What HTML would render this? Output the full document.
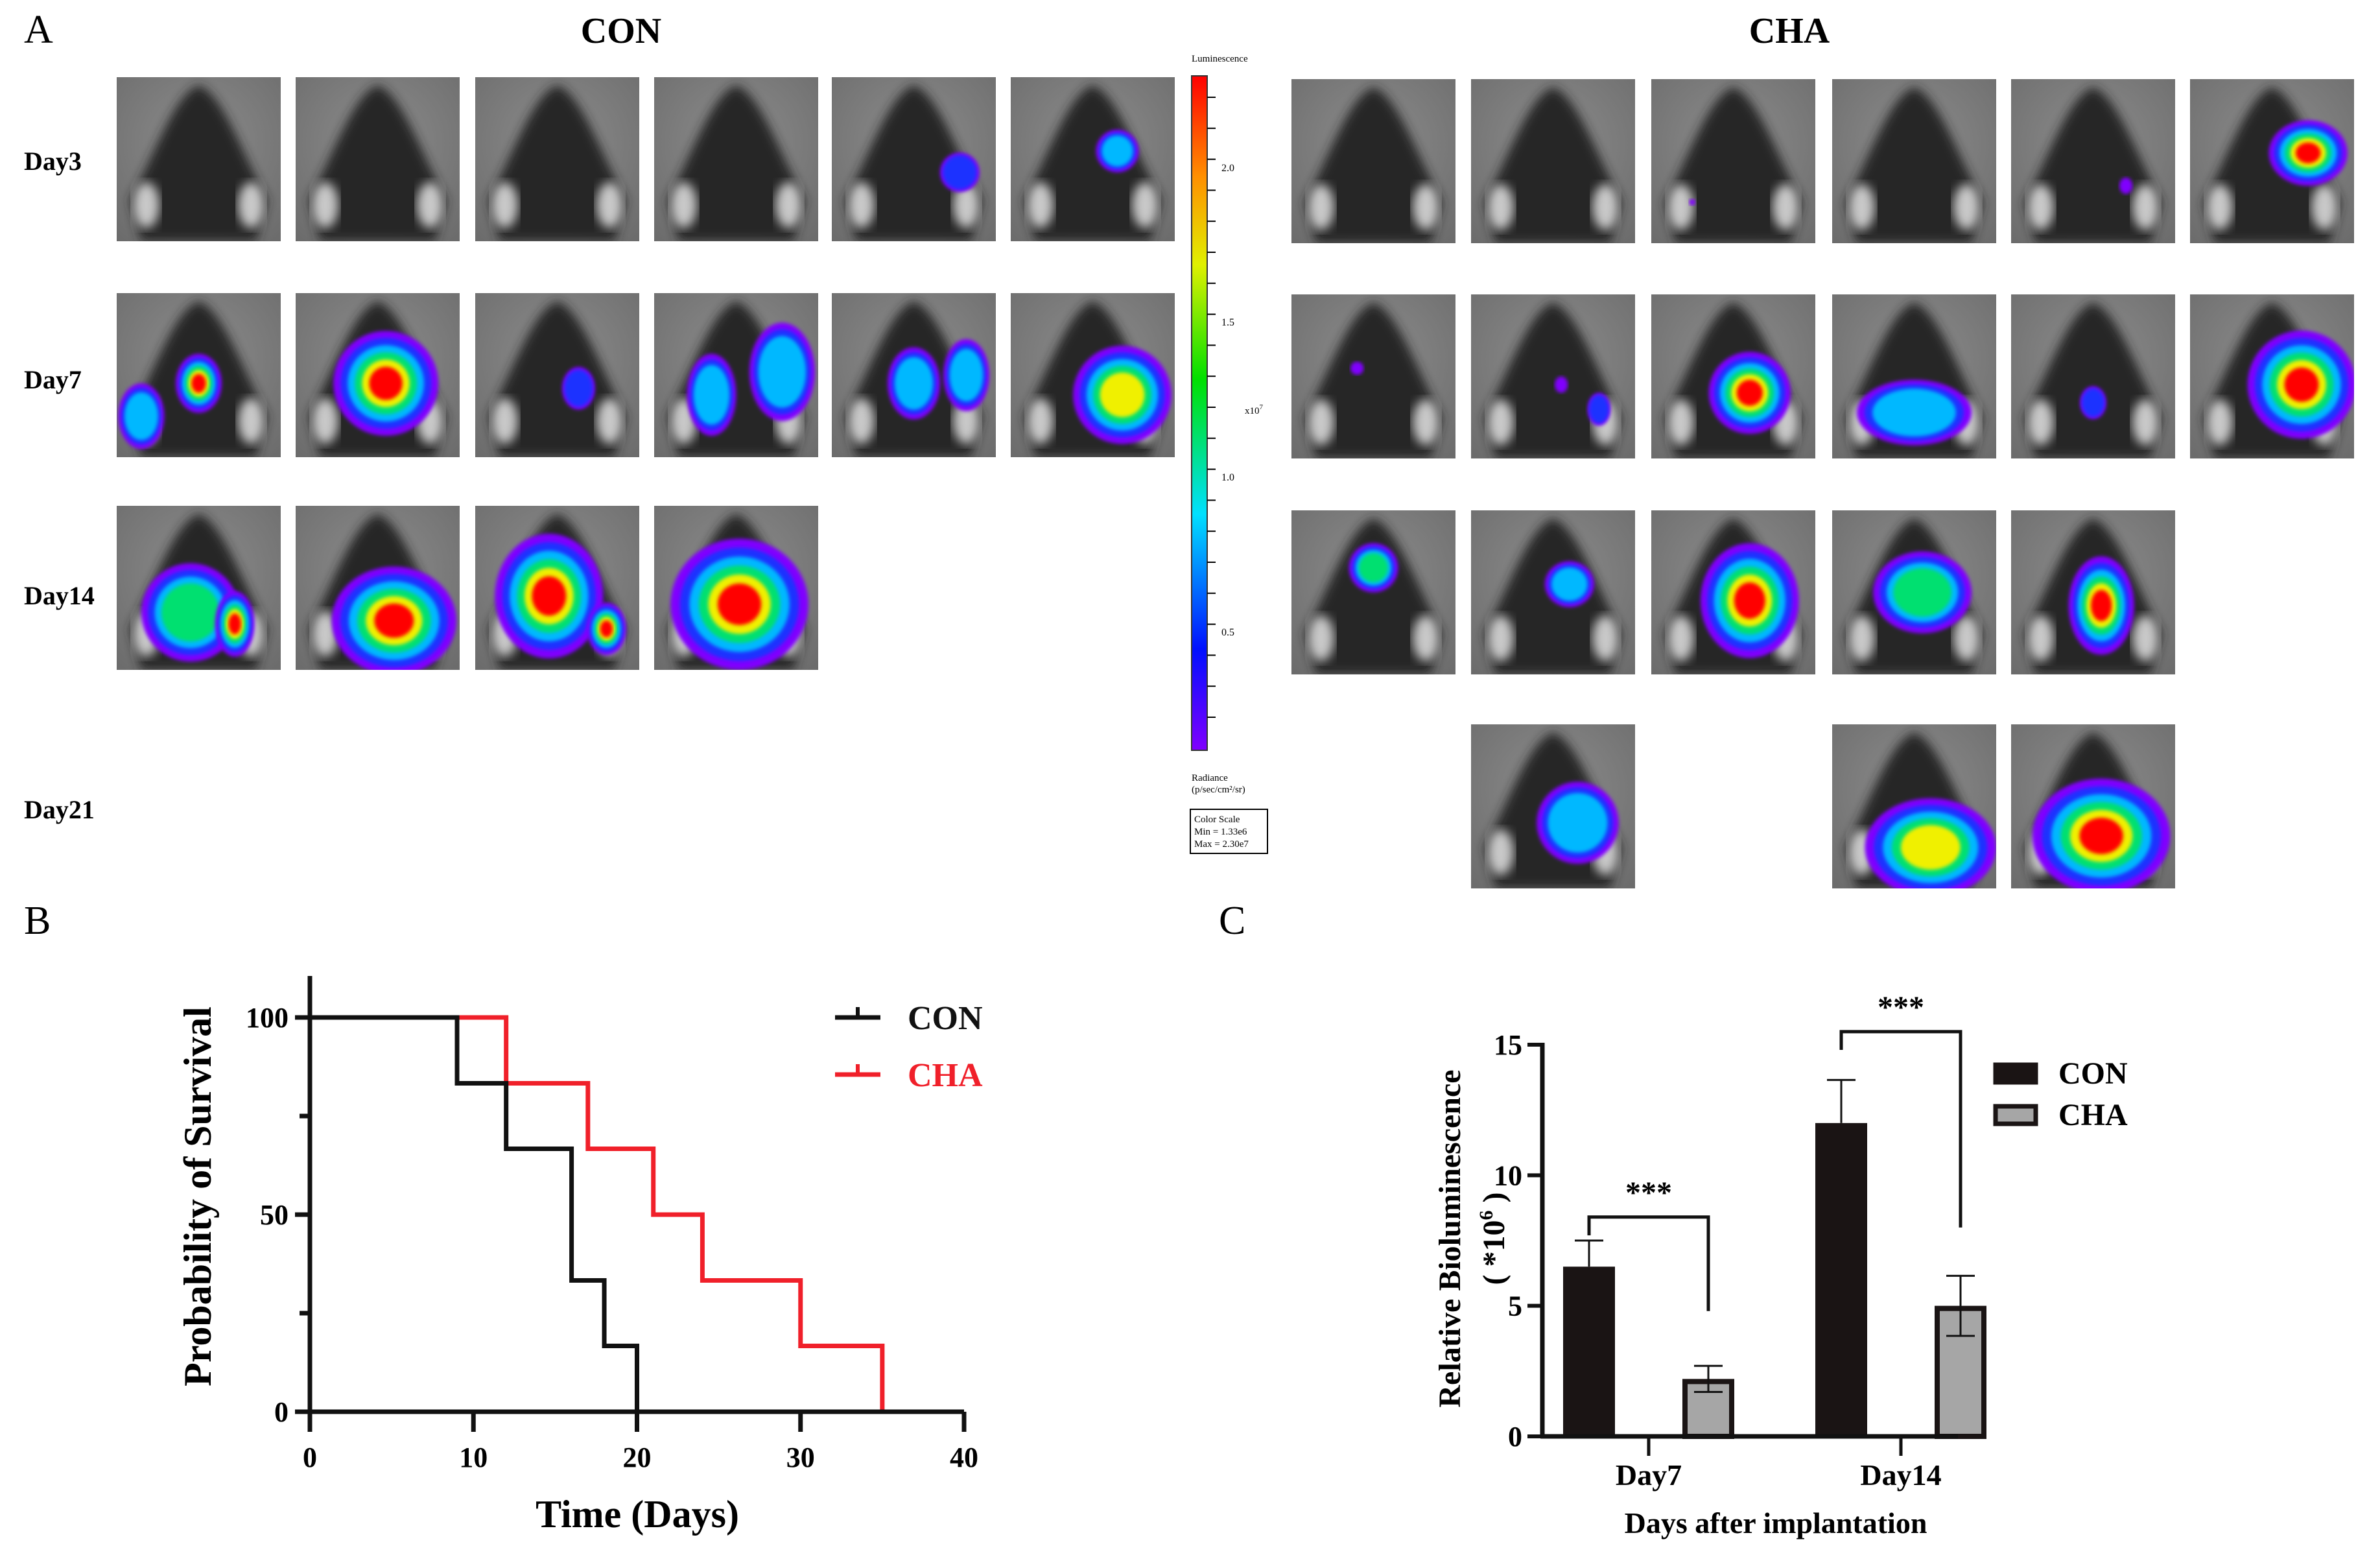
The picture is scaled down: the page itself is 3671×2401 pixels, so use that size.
<!DOCTYPE html>
<html><head><meta charset="utf-8"><style>
html,body{margin:0;padding:0;background:#fff}
svg{display:block}
text{font-family:"Liberation Serif",serif}
</style></head><body>
<svg id="fig" width="3671" height="2401" viewBox="0 0 3671 2401" xmlns="http://www.w3.org/2000/svg">
<defs>
<linearGradient id="cbar" x1="0" y1="1" x2="0" y2="0">
<stop offset="0" stop-color="#8000ff"/><stop offset="0.15" stop-color="#0010ff"/><stop offset="0.35" stop-color="#00e0ff"/><stop offset="0.55" stop-color="#00e000"/><stop offset="0.72" stop-color="#e0f000"/><stop offset="0.85" stop-color="#ff9000"/><stop offset="1" stop-color="#ff0000"/>
</linearGradient>
<radialGradient id="bg" cx="0.5" cy="0.4" r="0.8"><stop offset="0" stop-color="#8c8c8c"/><stop offset="1" stop-color="#6a6a6a"/></radialGradient>
<filter id="blur"><feGaussianBlur stdDeviation="8"/></filter>
<filter id="blur2"><feGaussianBlur stdDeviation="3"/></filter>
</defs>
<g id="panelA">
<text x="37" y="66" font-size="62">A</text>
<text x="958" y="66" font-size="56" font-weight="bold" text-anchor="middle">CON</text>
<text x="2760" y="66" font-size="56" font-weight="bold" text-anchor="middle">CHA</text>
<text x="37" y="262" font-size="40" font-weight="bold">Day3</text>
<text x="37" y="599" font-size="40" font-weight="bold">Day7</text>
<text x="37" y="932" font-size="40" font-weight="bold">Day14</text>
<text x="37" y="1262" font-size="40" font-weight="bold">Day21</text>
<g id="tiles"></g>
<g font-family="Liberation Sans, sans-serif">
<text x="1838" y="95" font-size="15" font-family="Liberation Sans, sans-serif">Luminescence</text>
<rect x="1838" y="117" width="24" height="1040" fill="url(#cbar)" stroke="#333" stroke-width="2"/>
<g id="cticks"></g>
<text x="1884" y="264" font-size="16" font-family="Liberation Sans, sans-serif">2.0</text>
<text x="1884" y="502" font-size="16" font-family="Liberation Sans, sans-serif">1.5</text>
<text x="1884" y="741" font-size="16" font-family="Liberation Sans, sans-serif">1.0</text>
<text x="1884" y="980" font-size="16" font-family="Liberation Sans, sans-serif">0.5</text>
<text x="1920" y="638" font-size="15" font-family="Liberation Sans, sans-serif">x10<tspan dy="-7" font-size="11">7</tspan></text>
<text x="1838" y="1204" font-size="15" font-family="Liberation Sans, sans-serif">Radiance</text>
<text x="1838" y="1222" font-size="15" font-family="Liberation Sans, sans-serif">(p/sec/cm²/sr)</text>
<rect x="1836" y="1248" width="119" height="68" fill="none" stroke="#000" stroke-width="2"/>
<text x="1842" y="1268" font-size="15" font-family="Liberation Sans, sans-serif">Color Scale</text>
<text x="1842" y="1287" font-size="15" font-family="Liberation Sans, sans-serif">Min = 1.33e6</text>
<text x="1842" y="1306" font-size="15" font-family="Liberation Sans, sans-serif">Max = 2.30e7</text>
</g>
</g>
<g id="panelB">
<text x="37" y="1440" font-size="62">B</text>
</g>
<g id="panelC">
<text x="1880" y="1440" font-size="62">C</text>
</g>
</svg>
<script>
// ===== Survival chart data =====
const conTimes = [0, 9, 12, 16, 18, 20];
const conSurv = [100, 83.3, 66.7, 33.3, 16.7, 0];
const chaTimes = [0, 12, 17, 21, 24, 30, 35];
const chaSurv = [100, 83.3, 66.7, 50, 33.3, 16.7, 0];
const survXTicks = [0, 10, 20, 30, 40];
const survYTicks = [0, 50, 100];
const survYMinor = [25, 75];
// ===== Bar chart data =====
const barCategories = ["Day7", "Day14"];
const conMeans = [6.5, 12.0];
const conErr = [1.0, 1.65];
const chaMeans = [2.2, 5.0];
const chaErr = [0.5, 1.15];
const barYTicks = [0, 5, 10, 15];
const sigLabels = ["***", "***"];
const bracketTop = [8.4, 15.5];
const bracketLeft = [7.7, 14.8];
const bracketRight = [4.8, 8.0];

const NS = "http://www.w3.org/2000/svg";
function mk(tag, attrs, parent) {
  const e = document.createElementNS(NS, tag);
  for (const k in attrs) e.setAttribute(k, attrs[k]);
  parent.appendChild(e);
  return e;
}

const ct = document.getElementById('cticks');
for (let i = 0; i < 22; i++) {
  const y = 150 + i * 47.8;
  if (y > 1150) break;
  const t = mk('line', {x1: 1862, x2: 1875, y1: y, y2: y, stroke: '#000', 'stroke-width': 2}, ct);
  
  
}

// ===== mouse tiles =====
const conCols = [180, 456, 733, 1009, 1283, 1559];
const chaCols = [1992, 2269, 2547, 2826, 3102, 3378];
const conRows = [119, 452, 780];
const chaRows = [122, 454, 787, 1117];
const TW = 253, TH = 253;
const blobColors = ['#8000ff', '#1a30ff', '#00b8ff', '#00e070', '#f0f000', '#ff0000'];
const conBlobs = [
  [[], [], [], [], [[0.78,0.58,0.12,0.12,0.3]], [[0.65,0.45,0.13,0.13,0.35]]],
  [[[0.5,0.55,0.14,0.18,0.95],[0.15,0.75,0.14,0.2,0.4]], [[0.55,0.55,0.32,0.32,0.85]], [[0.63,0.58,0.1,0.13,0.3]],
   [[0.35,0.62,0.15,0.25,0.45],[0.78,0.48,0.2,0.3,0.45]], [[0.5,0.55,0.16,0.22,0.45],[0.82,0.5,0.14,0.22,0.4]], [[0.68,0.62,0.3,0.3,0.8]]],
  [[[0.45,0.65,0.3,0.3,0.55],[0.72,0.72,0.12,0.2,0.85]], [[0.6,0.7,0.38,0.33,1.0]], [[0.45,0.55,0.33,0.38,1.0],[0.8,0.75,0.12,0.16,0.95]], [[0.52,0.6,0.42,0.4,0.95]]]
];
const chaBlobs = [
  [[], [], [[0.25,0.75,0.02,0.02,0.15]], [], [[0.7,0.65,0.04,0.05,0.15]], [[0.72,0.45,0.24,0.2,0.85]]],
  [[[0.4,0.45,0.04,0.04,0.15]], [[0.78,0.7,0.07,0.1,0.3],[0.55,0.55,0.04,0.05,0.15]], [[0.6,0.6,0.25,0.25,0.9]], [[0.5,0.72,0.35,0.2,0.4]], [[0.5,0.66,0.08,0.1,0.3]], [[0.68,0.55,0.33,0.33,0.85]]],
  [[[0.5,0.35,0.15,0.15,0.55]], [[0.6,0.45,0.15,0.14,0.35]], [[0.6,0.55,0.3,0.35,0.95]], [[0.55,0.5,0.3,0.25,0.6]], [[0.55,0.58,0.2,0.3,0.85]]],
  [null, [[0.65,0.6,0.25,0.25,0.45]], null, [[0.6,0.75,0.4,0.3,0.8]], [[0.55,0.68,0.42,0.35,1.0]], null]
];
const tiles = document.getElementById('tiles');
function drawTile(x, y, blobs, name) {
  const g = mk('g', {transform: `translate(${x},${y})`}, tiles);
  
  
  mk('rect', {x: 0, y: 0, width: TW, height: TH, fill: 'url(#bg)'}, g);
  const cp = mk('clipPath', {id: 'cp' + name}, g);
  mk('rect', {x: 0, y: 0, width: TW, height: TH}, cp);
  const inner = mk('g', {'clip-path': `url(#cp${name})`}, g);
  mk('path', {d: `M${TW*0.5},${TH*0.05} C${TW*0.65},${TH*0.1} ${TW*0.78},${TH*0.5} ${TW*0.92},${TH*0.75} L${TW*0.85},${TH} L${TW*0.15},${TH} L${TW*0.08},${TH*0.75} C${TW*0.22},${TH*0.5} ${TW*0.35},${TH*0.1} ${TW*0.5},${TH*0.05}Z`, fill: '#262626', filter: 'url(#blur)'}, inner);
  mk('ellipse', {cx: TW*0.18, cy: TH*0.78, rx: TW*0.08, ry: TH*0.14, fill: '#c8c8c8', filter: 'url(#blur)'}, inner);
  mk('ellipse', {cx: TW*0.82, cy: TH*0.78, rx: TW*0.08, ry: TH*0.14, fill: '#c8c8c8', filter: 'url(#blur)'}, inner);
  blobs.forEach(b => {
    const [cx, cy, rx, ry, inten] = b;
    const n = Math.max(1, Math.ceil(inten * 6));
    for (let k = 0; k < n; k++) {
      const f = 1 - k / 6 * 0.82;
      mk('ellipse', {cx: cx*TW, cy: cy*TH, rx: rx*TW*f, ry: ry*TH*f, fill: blobColors[k], filter: 'url(#blur2)'}, inner);
    }
  });
}
conRows.forEach((ry, r) => conBlobs[r].forEach((bl, c) => drawTile(conCols[c], ry, bl, `con-r${r}-c${c}`)));
chaRows.forEach((ry, r) => chaBlobs[r].forEach((bl, c) => { if (bl) drawTile(chaCols[c], ry, bl, `cha-r${r}-c${c}`); }));

// ===== Survival chart =====
const pB = document.getElementById('panelB');
const bx = t => 478 + t / 40 * (1487 - 478);
const by = v => 2177 - v / 100 * (2177 - 1569);
function stepPath(ts, vs) {
  let d = `M${bx(ts[0])},${by(vs[0])}`;
  for (let i = 1; i < ts.length; i++) d += ` H${bx(ts[i])} V${by(vs[i])}`;
  return d;
}
const chaLine = mk('path', {d: stepPath(chaTimes, chaSurv), fill: 'none', stroke: '#f0202a', 'stroke-width': 7}, pB);


const conLine = mk('path', {d: stepPath(conTimes, conSurv), fill: 'none', stroke: '#111', 'stroke-width': 7}, pB);


const bya = mk('line', {x1: 478, x2: 478, y1: 1505, y2: 2177, stroke: '#111', 'stroke-width': 7}, pB);


const bxa = mk('line', {x1: 460, x2: 1487, y1: 2177, y2: 2177, stroke: '#111', 'stroke-width': 7}, pB);


survXTicks.forEach(t => {
  mk('line', {x1: bx(t), x2: bx(t), y1: 2177, y2: 2208, stroke: '#111', 'stroke-width': 7}, pB);
  const tl = mk('text', {x: bx(t), y: 2262, 'font-size': 44, 'font-weight': 'bold', 'text-anchor': 'middle'}, pB);
  tl.textContent = t;
  
  
});
survYTicks.forEach(v => {
  mk('line', {x1: 455, x2: 478, y1: by(v), y2: by(v), stroke: '#111', 'stroke-width': 7}, pB);
  const tl = mk('text', {x: 445, y: by(v) + 15, 'font-size': 44, 'font-weight': 'bold', 'text-anchor': 'end'}, pB);
  tl.textContent = v;
  
  
});
survYMinor.forEach(v => mk('line', {x1: 462, x2: 478, y1: by(v), y2: by(v), stroke: '#111', 'stroke-width': 7}, pB));
const byt = mk('text', {x: 0, y: 0, 'font-size': 60, 'font-weight': 'bold', 'text-anchor': 'middle', transform: 'translate(325,1845) rotate(-90)'}, pB);
byt.textContent = 'Probability of Survival';


const bxt = mk('text', {x: 983, y: 2355, 'font-size': 60, 'font-weight': 'bold', 'text-anchor': 'middle'}, pB);
bxt.textContent = 'Time (Days)';


[['CON', '#111', 1569], ['CHA', '#f0202a', 1657]].forEach(([n, col, y]) => {
  const lg = mk('g', {}, pB);
  
  
  mk('line', {x1: 1288, x2: 1358, y1: y, y2: y, stroke: col, 'stroke-width': 7}, lg);
  mk('line', {x1: 1323, x2: 1323, y1: y - 16, y2: y, stroke: col, 'stroke-width': 6}, lg);
  const t = mk('text', {x: 1400, y: y + 18, 'font-size': 52, 'font-weight': 'bold', fill: col}, lg);
  t.textContent = n;
});

// ===== Bar chart =====
const pC = document.getElementById('panelC');
const cy = v => 2215 - v / 15 * (2215 - 1611);
const catCenters = [2543, 2932];
const barW = 80, barOff = 92;
const cya = mk('line', {x1: 2379, x2: 2379, y1: 1608, y2: 2215, stroke: '#111', 'stroke-width': 7}, pC);


barCategories.forEach((c, i) => {
  const cx = catCenters[i];
  const x1 = cx - barOff, x2 = cx + barOff;
  const b1 = mk('rect', {x: x1 - barW/2, y: cy(conMeans[i]), width: barW, height: cy(0) - cy(conMeans[i]), fill: '#1a1414'}, pC);
  
  
  const b2 = mk('rect', {x: x2 - barW/2 + 4, y: cy(chaMeans[i]) + 4, width: barW - 8, height: cy(0) - cy(chaMeans[i]) - 4, fill: '#a6a6a6', stroke: '#1a1414', 'stroke-width': 8}, pC);
  
  
  const e1 = mk('path', {d: `M${x1},${cy(conMeans[i])} V${cy(conMeans[i] + conErr[i])} M${x1-22},${cy(conMeans[i] + conErr[i])} H${x1+22}`, stroke: '#111', 'stroke-width': 3, fill: 'none'}, pC);
  
  
  const e2 = mk('path', {d: `M${x2},${cy(chaMeans[i] - chaErr[i])} V${cy(chaMeans[i] + chaErr[i])} M${x2-22},${cy(chaMeans[i] + chaErr[i])} H${x2+22} M${x2-22},${cy(chaMeans[i] - chaErr[i])} H${x2+22}`, stroke: '#111', 'stroke-width': 3, fill: 'none'}, pC);
  
  
  const br = mk('path', {d: `M${x1},${cy(bracketLeft[i])} V${cy(bracketTop[i])} H${x2} V${cy(bracketRight[i])}`, stroke: '#111', 'stroke-width': 5, fill: 'none'}, pC);
  
  
  const st = mk('text', {x: cx, y: cy(bracketTop[i]) - 22, 'font-size': 48, 'font-weight': 'bold', 'text-anchor': 'middle'}, pC);
  st.textContent = sigLabels[i];
  
  
  mk('line', {x1: cx, x2: cx, y1: 2215, y2: 2245, stroke: '#111', 'stroke-width': 5}, pC);
  const cl = mk('text', {x: cx, y: 2290, 'font-size': 46, 'font-weight': 'bold', 'text-anchor': 'middle'}, pC);
  cl.textContent = c;
  
  
});
const cxa = mk('line', {x1: 2376, x2: 3020, y1: 2215, y2: 2215, stroke: '#111', 'stroke-width': 7}, pC);


barYTicks.forEach(v => {
  mk('line', {x1: 2356, x2: 2379, y1: cy(v), y2: cy(v), stroke: '#111', 'stroke-width': 6}, pC);
  const tl = mk('text', {x: 2348, y: cy(v) + 15, 'font-size': 44, 'font-weight': 'bold', 'text-anchor': 'end'}, pC);
  tl.textContent = v;
  
  
});
const cyt = mk('text', {x: 0, y: 0, 'font-size': 48, 'font-weight': 'bold', 'text-anchor': 'middle', transform: 'translate(2252,1910) rotate(-90)'}, pC);
cyt.textContent = 'Relative Bioluminescence';


const cyt2 = mk('text', {x: 0, y: 0, 'font-size': 48, 'font-weight': 'bold', 'text-anchor': 'middle', transform: 'translate(2320,1910) rotate(-90)'}, pC);
cyt2.innerHTML = '( *10<tspan dy="-18" font-size="30">6</tspan><tspan dy="18"> )</tspan>';


const cxt = mk('text', {x: 2739, y: 2364, 'font-size': 46, 'font-weight': 'bold', 'text-anchor': 'middle'}, pC);
cxt.textContent = 'Days after implantation';


[['CON', '#1a1414', 1639], ['CHA', '#a6a6a6', 1703]].forEach(([n, col, y]) => {
  const lg = mk('g', {}, pC);
  
  
  mk('rect', {x: 3078, y: y + 3, width: 62, height: 27, fill: col, stroke: '#1a1414', 'stroke-width': 7}, lg);
  const t = mk('text', {x: 3175, y: y + 32, 'font-size': 48, 'font-weight': 'bold'}, lg);
  t.textContent = n;
});
</script>
</body></html>
